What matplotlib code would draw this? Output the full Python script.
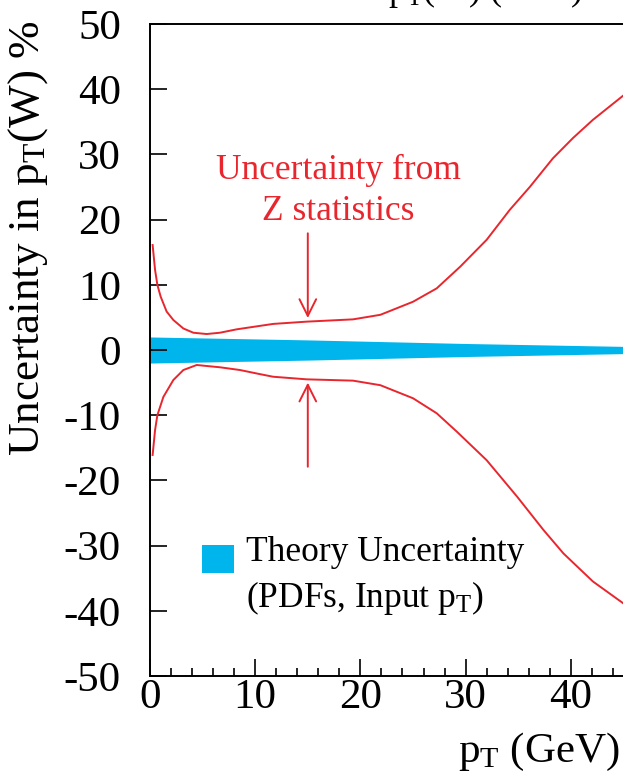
import matplotlib
matplotlib.use("Agg")
import matplotlib.pyplot as plt
from matplotlib.patches import Rectangle
from matplotlib.ticker import MultipleLocator, FixedLocator

plt.rcParams['font.family'] = ['Liberation Serif', 'DejaVu Serif']
plt.rcParams['mathtext.fontset'] = 'custom'
plt.rcParams['mathtext.rm'] = 'Liberation Serif'
plt.rcParams['mathtext.it'] = 'Liberation Serif:italic'
plt.rcParams['axes.unicode_minus'] = False

RED = '#e8262e'
BLUE = '#00b4ec'

# Upper edge of "Uncertainty from Z statistics" (%)
pt_up = [0.25, 0.48, 0.70, 1.01, 1.58, 2.22, 3.17, 4.12, 5.38, 6.65, 8.24, 10.45,
         11.7, 14.9, 19.3, 21.9, 25.0, 27.25, 29.5, 32.0, 34.2, 36.1, 38.3, 40.2,
         42.1, 45.2]
unc_up = [16.1, 12.3, 10.0, 8.2, 5.9, 4.6, 3.3, 2.65, 2.45, 2.65, 3.17, 3.7,
          4.0, 4.35, 4.7, 5.4, 7.4, 9.45, 12.8, 16.9, 21.5, 25.0, 29.4, 32.5,
          35.3, 39.3]
# Lower edge (%)
pt_lo = [0.25, 0.48, 0.70, 1.27, 2.22, 3.17, 4.44, 5.38, 6.65, 8.55, 10.45,
         11.7, 14.9, 19.3, 21.9, 25.0, 27.25, 29.15, 32.0, 34.9, 37.4, 39.3,
         42.1, 45.2]
unc_lo = [-16.1, -12.3, -10.0, -7.2, -4.6, -3.07, -2.3, -2.45, -2.65, -3.07, -3.7,
          -4.1, -4.5, -4.7, -5.4, -7.4, -9.7, -12.5, -16.9, -22.5, -27.6, -31.2,
          -35.5, -39.1]
# Theory uncertainty band half-width (%)
pt_band = [0.0, 15.0, 30.0, 45.2]
band_half = [2.0, 1.55, 1.0, 0.55]

# x tick labels shown
x_ticks = [0, 10, 20, 30, 40]
y_ticks = [-50, -40, -30, -20, -10, 0, 10, 20, 30, 40, 50]

# annotation arrows (pT, value)
arrow_pt = 15.0
arrow_up_from, arrow_up_to = 17.9, 4.9
arrow_lo_from, arrow_lo_to = -17.9, -5.0

fig = plt.figure(figsize=(6.23, 7.81), dpi=100)
ax = fig.add_axes([150/623, 1-676/781, 526/623, (676-24)/781])

ax.fill_between(pt_band, [-b for b in band_half], band_half, color=BLUE, lw=0)
ax.plot(pt_up, unc_up, color=RED, lw=1.4)
ax.plot(pt_lo, unc_lo, color=RED, lw=1.4)

ax.set_xlim(0, 50)
ax.set_ylim(-50, 50)

for s in ax.spines.values():
    s.set_linewidth(1.4)
ax.spines['right'].set_visible(False)

ax.xaxis.set_major_locator(FixedLocator(x_ticks))
ax.xaxis.set_minor_locator(MultipleLocator(2))
ax.yaxis.set_major_locator(FixedLocator(y_ticks))
ax.tick_params(axis='both', which='both', direction='in', top=False, right=False, width=1.2)
ax.tick_params(axis='both', which='major', length=12.5, labelsize=31)
ax.tick_params(axis='x', which='minor', length=6)
ax.tick_params(axis='x', which='major', pad=2)
ax.tick_params(axis='y', which='major', pad=21)

ax.annotate('', xy=(arrow_pt, arrow_up_to), xytext=(arrow_pt, arrow_up_from),
            arrowprops=dict(arrowstyle='->,head_length=0.6,head_width=0.3', color=RED,
                            lw=1.4, mutation_scale=20, shrinkA=0, shrinkB=0))
ax.annotate('', xy=(arrow_pt, arrow_lo_to), xytext=(arrow_pt, arrow_lo_from),
            arrowprops=dict(arrowstyle='->,head_length=0.6,head_width=0.3', color=RED,
                            lw=1.4, mutation_scale=20, shrinkA=0, shrinkB=0))
ax.text(338/623, 1-154/781, 'Uncertainty from\nZ statistics', transform=fig.transFigure,
        ha='center', va='top', color=RED, fontsize=25.5, linespacing=1.3, multialignment='center')

# legend
fig.patches.append(Rectangle((202/623, 1-573/781), 32/623, 28/781, transform=fig.transFigure,
                             color=BLUE, lw=0))
fig.text(246/623, 1-536/781, 'Theory Uncertainty\n(PDFs, Input p$_\\mathrm{T}$)', ha='left', va='top',
         fontsize=25.5, linespacing=1.35)

fig.text(28/623, 1-238/781, 'Uncertainty in p$_\\mathrm{T}$(W) %', rotation=90, ha='center', va='center',
         fontsize=32.5)
fig.text(620/623, 1-762/781, 'p$_\\mathrm{T}$ (GeV)', ha='right', va='baseline', fontsize=31)
fig.text(388/623, 1.0, 'p$_\\mathrm{T}$(W) (GeV)', ha='left', va='baseline', fontsize=26)

fig.savefig('out.png', dpi=100)
